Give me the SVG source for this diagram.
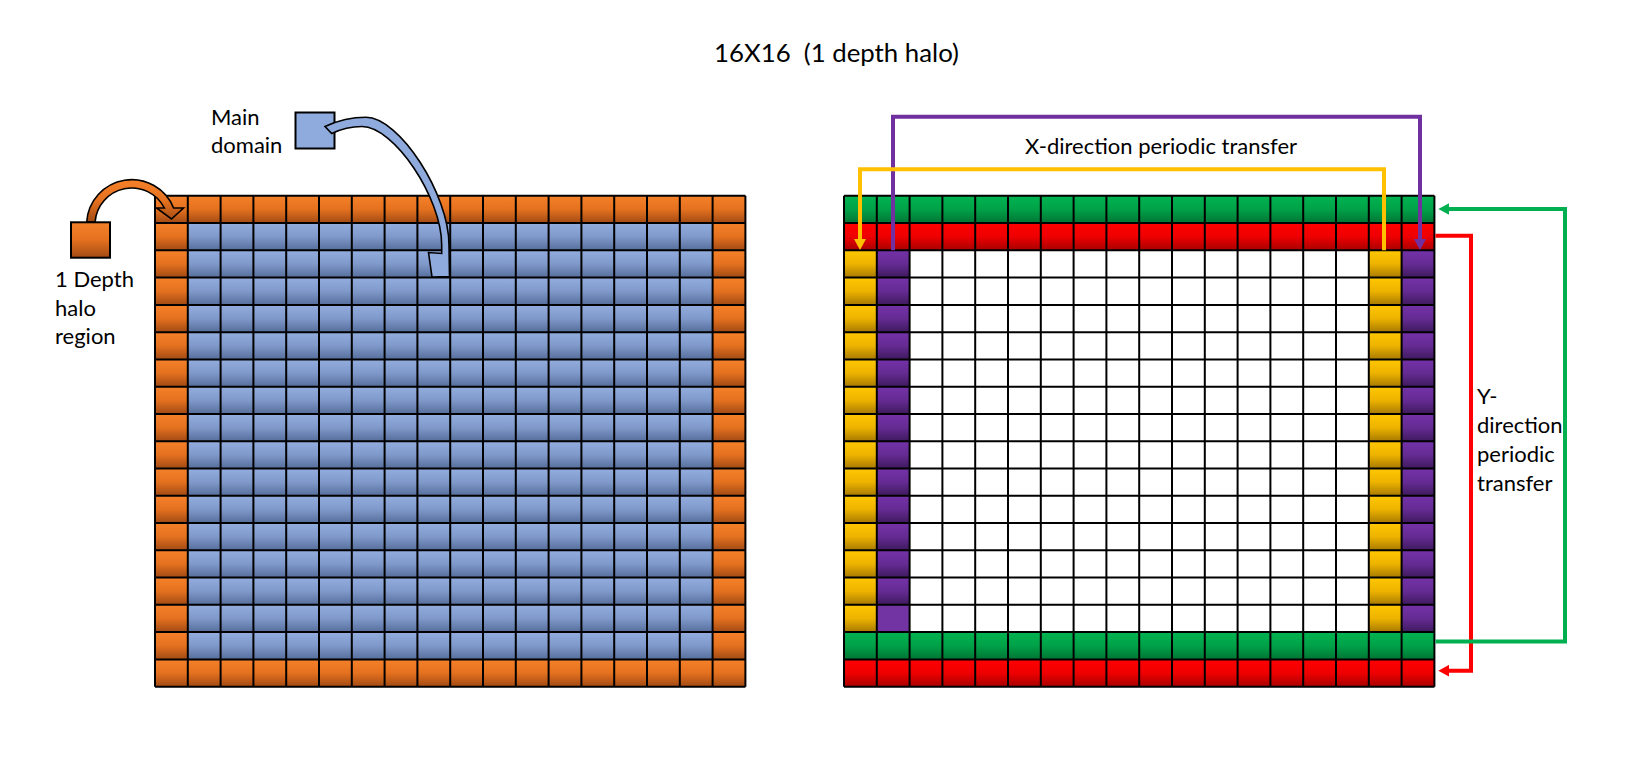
<svg xmlns="http://www.w3.org/2000/svg" width="1644" height="776" viewBox="0 0 1644 776">
<style>
text{font-family:Lato,"Open Sans",sans-serif;fill:#000}
.lbl{font-size:22px}
.title{font-size:25.8px}
.grid{fill:none;stroke:#000;stroke-width:2}
.conn{fill:none;stroke-width:4}
.sq{stroke:#000;stroke-width:2}
.barrow{stroke:#000;stroke-width:1.6;stroke-linejoin:miter}
</style>
<defs>
<linearGradient id="gO" gradientUnits="userSpaceOnUse" x1="0" y1="195.8" x2="0" y2="223.07" spreadMethod="repeat"><stop offset="0" stop-color="#F6812A"/><stop offset="0.5" stop-color="#E4711F"/><stop offset="1" stop-color="#A24A14"/></linearGradient>
<linearGradient id="gB" gradientUnits="userSpaceOnUse" x1="0" y1="195.8" x2="0" y2="223.07" spreadMethod="repeat"><stop offset="0" stop-color="#92ADDE"/><stop offset="0.5" stop-color="#7F99CA"/><stop offset="1" stop-color="#566E9B"/></linearGradient>
<linearGradient id="gG" gradientUnits="userSpaceOnUse" x1="0" y1="195.8" x2="0" y2="223.07" spreadMethod="repeat"><stop offset="0" stop-color="#00B450"/><stop offset="0.5" stop-color="#00A148"/><stop offset="1" stop-color="#007534"/></linearGradient>
<linearGradient id="gR" gradientUnits="userSpaceOnUse" x1="0" y1="195.8" x2="0" y2="223.07" spreadMethod="repeat"><stop offset="0" stop-color="#FF0000"/><stop offset="0.5" stop-color="#EE0000"/><stop offset="1" stop-color="#A80000"/></linearGradient>
<linearGradient id="gY" gradientUnits="userSpaceOnUse" x1="0" y1="195.8" x2="0" y2="223.07" spreadMethod="repeat"><stop offset="0" stop-color="#FFC700"/><stop offset="0.5" stop-color="#EDB300"/><stop offset="1" stop-color="#A87A00"/></linearGradient>
<linearGradient id="gP" gradientUnits="userSpaceOnUse" x1="0" y1="195.8" x2="0" y2="223.07" spreadMethod="repeat"><stop offset="0" stop-color="#7432A8"/><stop offset="0.5" stop-color="#652B93"/><stop offset="1" stop-color="#3F1A5E"/></linearGradient>
<linearGradient id="gOb" x1="0" y1="0" x2="0" y2="1"><stop offset="0" stop-color="#F6812A"/><stop offset="0.5" stop-color="#E4711F"/><stop offset="1" stop-color="#A24A14"/></linearGradient>
<marker id="mP" viewBox="0 0 11 12" refX="3" refY="6" markerWidth="11" markerHeight="12" markerUnits="userSpaceOnUse" orient="auto"><path d="M0,0L11,6L0,12Z" fill="#7030A0"/></marker>
<marker id="mY" viewBox="0 0 11 12" refX="3" refY="6" markerWidth="11" markerHeight="12" markerUnits="userSpaceOnUse" orient="auto"><path d="M0,0L11,6L0,12Z" fill="#FFC000"/></marker>
<marker id="mG" viewBox="0 0 11 12" refX="3" refY="6" markerWidth="11" markerHeight="12" markerUnits="userSpaceOnUse" orient="auto"><path d="M0,0L11,6L0,12Z" fill="#00B050"/></marker>
<marker id="mR" viewBox="0 0 11 12" refX="3" refY="6" markerWidth="11" markerHeight="12" markerUnits="userSpaceOnUse" orient="auto"><path d="M0,0L11,6L0,12Z" fill="#FF0000"/></marker>
</defs>
<rect width="1644" height="776" fill="#FFFFFF"/>

<g id="title"><text class="title" x="714" y="62" xml:space="preserve">16X16  (1 depth halo)</text></g>

<g id="left-grid">
<rect x="155" y="195.8" width="590.4" height="490.86" fill="url(#gO)"/>
<rect x="187.8" y="223.07" width="524.8" height="436.32" fill="url(#gB)"/>
<path class="grid" d="M155 195.8V686.66M187.8 195.8V686.66M220.6 195.8V686.66M253.4 195.8V686.66M286.2 195.8V686.66M319 195.8V686.66M351.8 195.8V686.66M384.6 195.8V686.66M417.4 195.8V686.66M450.2 195.8V686.66M483 195.8V686.66M515.8 195.8V686.66M548.6 195.8V686.66M581.4 195.8V686.66M614.2 195.8V686.66M647 195.8V686.66M679.8 195.8V686.66M712.6 195.8V686.66M745.4 195.8V686.66M155 195.8H745.4M155 223.07H745.4M155 250.34H745.4M155 277.61H745.4M155 304.88H745.4M155 332.15H745.4M155 359.42H745.4M155 386.69H745.4M155 413.96H745.4M155 441.23H745.4M155 468.5H745.4M155 495.77H745.4M155 523.04H745.4M155 550.31H745.4M155 577.58H745.4M155 604.85H745.4M155 632.12H745.4M155 659.39H745.4M155 686.66H745.4"/>
</g>

<g id="halo-legend">
<path class="barrow" fill="url(#gOb)" d="M86.7,222A45.1,45.1 0 0 1 173.6,208L183.5,208L171.5,219L156.5,208L164.4,208A36.7,36.7 0 0 0 95.1,222Z"/>
<rect class="sq" x="71" y="222.3" width="39" height="35.4" fill="url(#gOb)"/>
<text class="lbl" x="55" y="287">1 Depth</text>
<text class="lbl" x="55" y="315.5">halo</text>
<text class="lbl" x="55" y="344">region</text>
</g>

<g id="main-legend">
<rect class="sq" x="295.5" y="112.5" width="39" height="36" fill="#8FAADC"/>
<path class="barrow" fill="#8FAADC" d="M325,126.5C338,120.5 352,117.3 366,117.3C399.2,117.3 449,193.9 449,245L449.5,276.5L432,277L428.5,252.5L441.7,253.5L441.7,245C441.7,197.6 393.9,126.5 362,126.5C350,126.5 340,129.5 331.7,133.5Z"/>
<text class="lbl" x="211" y="124.5">Main</text>
<text class="lbl" x="211" y="153">domain</text>
</g>

<g id="right-grid">
<rect x="844" y="195.8" width="590.4" height="27.27" fill="url(#gG)"/>
<rect x="844" y="223.07" width="590.4" height="27.27" fill="url(#gR)"/>
<rect x="844" y="250.34" width="32.8" height="381.78" fill="url(#gY)"/>
<rect x="876.8" y="250.34" width="32.8" height="381.78" fill="url(#gP)"/>
<rect x="909.6" y="250.34" width="459.2" height="381.78" fill="#FFFFFF"/>
<rect x="1368.8" y="250.34" width="32.8" height="381.78" fill="url(#gY)"/>
<rect x="1401.6" y="250.34" width="32.8" height="381.78" fill="url(#gP)"/>
<rect x="876.8" y="604.85" width="32.8" height="27.27" fill="#7334A3"/>
<rect x="844" y="632.12" width="590.4" height="27.27" fill="url(#gG)"/>
<rect x="844" y="659.39" width="590.4" height="27.27" fill="url(#gR)"/>
<path class="grid" d="M844 195.8V686.66M876.8 195.8V686.66M909.6 195.8V686.66M942.4 195.8V686.66M975.2 195.8V686.66M1008 195.8V686.66M1040.8 195.8V686.66M1073.6 195.8V686.66M1106.4 195.8V686.66M1139.2 195.8V686.66M1172 195.8V686.66M1204.8 195.8V686.66M1237.6 195.8V686.66M1270.4 195.8V686.66M1303.2 195.8V686.66M1336 195.8V686.66M1368.8 195.8V686.66M1401.6 195.8V686.66M1434.4 195.8V686.66M844 195.8H1434.4M844 223.07H1434.4M844 250.34H1434.4M844 277.61H1434.4M844 304.88H1434.4M844 332.15H1434.4M844 359.42H1434.4M844 386.69H1434.4M844 413.96H1434.4M844 441.23H1434.4M844 468.5H1434.4M844 495.77H1434.4M844 523.04H1434.4M844 550.31H1434.4M844 577.58H1434.4M844 604.85H1434.4M844 632.12H1434.4M844 659.39H1434.4M844 686.66H1434.4"/>
</g>

<g id="connectors">
<path class="conn" stroke="#7030A0" marker-end="url(#mP)" d="M893,250.3V116.7H1420V242"/>
<path class="conn" stroke="#FFC000" marker-end="url(#mY)" d="M1384,250.3V169.3H860V242"/>
<path class="conn" stroke="#FF0000" marker-end="url(#mR)" d="M1435.4,235.7H1471V670.7H1446.3"/>
<path class="conn" stroke="#00B050" marker-end="url(#mG)" d="M1435.4,641.5H1565V209H1446.3"/>
</g>

<g id="labels">
<text class="lbl" x="1025" y="153.5">X-direction periodic transfer</text>
<text class="lbl" x="1477" y="404">Y-</text>
<text class="lbl" x="1477" y="433">direction</text>
<text class="lbl" x="1477" y="462">periodic</text>
<text class="lbl" x="1477" y="491">transfer</text>
</g>
</svg>
